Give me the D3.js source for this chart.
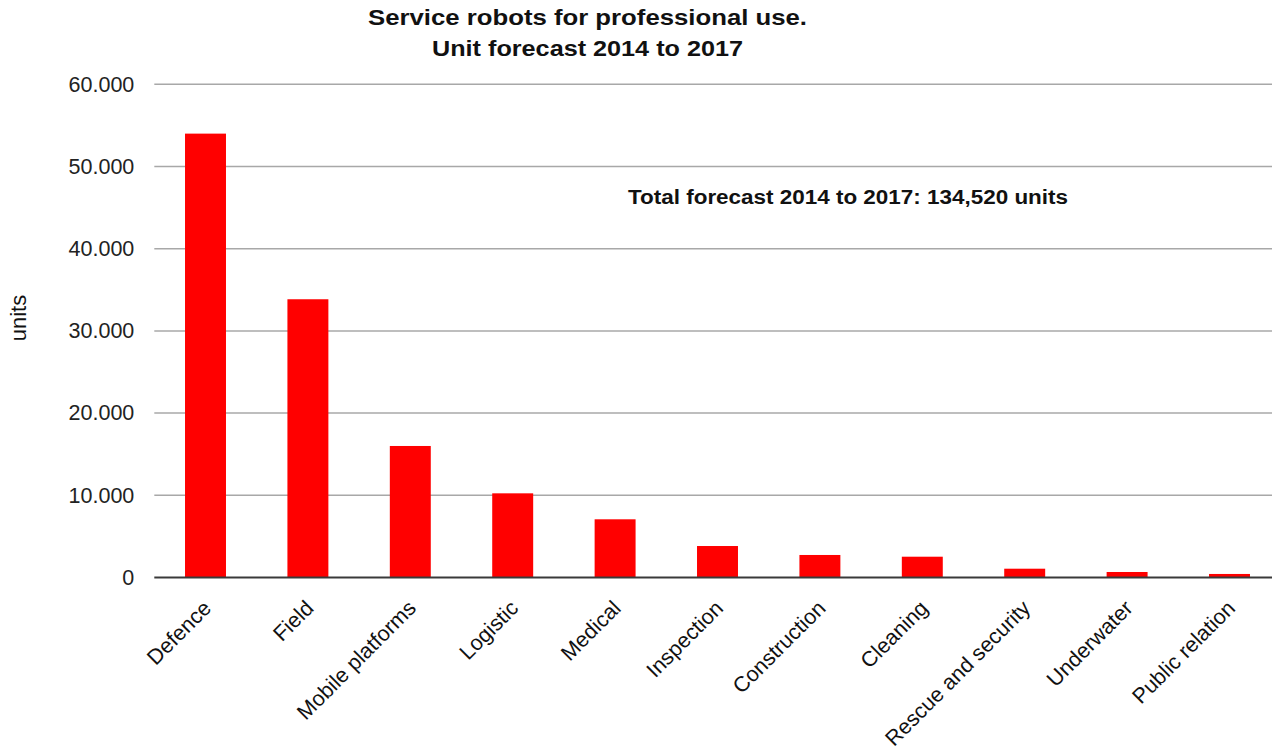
<!DOCTYPE html>
<html>
<head>
<meta charset="utf-8">
<script src="https://cdn.jsdelivr.net/npm/d3@7"></script>
<style>
  html, body { margin: 0; padding: 0; background: #fff; }
  svg { display: block; font-family: "Liberation Sans", Arial, sans-serif; }
</style>
</head>
<body>
<svg id="chart" width="1272" height="750"></svg>
<script>
// Service robot categories and forecast unit counts, 2014-2017
const categories = ["Defence", "Field", "Mobile platforms", "Logistic", "Medical",
  "Inspection", "Construction", "Cleaning", "Rescue and security", "Underwater", "Public relation"];
const units = [54000, 33850, 16000, 10240, 7080, 3830, 2740, 2530, 1070, 670, 430];
const yTicks = [0, 10000, 20000, 30000, 40000, 50000, 60000];
const titleLines = ["Service robots for professional use.", "Unit forecast 2014 to 2017"];
const titleWidths = [439, 311];
const totalNote = "Total forecast 2014 to 2017: 134,520 units";

const svg = d3.select("#chart");
const W = 1272;

const x = d3.scaleBand()
  .domain(categories)
  .range([154.3, 1280.7])
  .paddingInner(0.6)
  .paddingOuter(0.3);

const y = d3.scaleLinear()
  .domain([0, 60000])
  .range([577.5, 84.3]);

const fmt = v => v === 0 ? "0" : d3.format(",")(v).replace(/,/g, ".");

// horizontal gridlines
svg.append("g")
  .selectAll("line")
  .data(yTicks.filter(d => d !== 0))
  .join("line")
  .attr("x1", 154.3).attr("x2", W)
  .attr("y1", d => y(d)).attr("y2", d => y(d))
  .attr("stroke", "#a8a8a8")
  .attr("stroke-width", 1.5);

// y axis tick labels
const yAxis = d3.axisLeft(y).tickValues(yTicks).tickFormat(fmt).tickSize(0).tickPadding(20);
const yg = svg.append("g").attr("transform", "translate(154.3,0)").call(yAxis);
yg.select(".domain").remove();
yg.selectAll("text")
  .attr("font-size", 21.5)
  .attr("fill", "#222")
  .attr("font-family", "Liberation Sans, Arial, sans-serif");

// bars
svg.append("g")
  .selectAll("rect")
  .data(categories.map((c, i) => ({ c, v: units[i] })))
  .join("rect")
  .attr("x", d => x(d.c))
  .attr("width", x.bandwidth())
  .attr("y", d => y(d.v))
  .attr("height", d => y(0) - y(d.v))
  .attr("fill", "#ff0000");

// baseline
svg.append("line")
  .attr("x1", 154.3).attr("x2", W)
  .attr("y1", y(0)).attr("y2", y(0))
  .attr("stroke", "#3a3a3a")
  .attr("stroke-width", 2);

// category labels, rotated
const xAxis = d3.axisBottom(x).tickSize(0).tickPadding(0);
const xg = svg.append("g").attr("transform", `translate(0,${y(0)})`).call(xAxis);
xg.select(".domain").remove();
xg.selectAll("text")
  .attr("font-size", 21.5)
  .attr("fill", "#111")
  .attr("font-family", "Liberation Sans, Arial, sans-serif")
  .attr("text-anchor", "end")
  .attr("dy", 0)
  .attr("y", 0)
  .attr("transform", "translate(7,32) rotate(-45)");

// y axis title
svg.append("text")
  .attr("transform", "translate(26,318) rotate(-90)")
  .attr("text-anchor", "middle")
  .attr("font-size", 22)
  .attr("fill", "#111")
  .text("units");

// chart title
svg.append("g")
  .selectAll("text")
  .data(titleLines)
  .join("text")
  .attr("x", 587.5)
  .attr("y", (d, i) => 25 + i * 31)
  .attr("text-anchor", "middle")
  .attr("font-size", 22.5)
  .attr("font-weight", "bold")
  .attr("fill", "#111")
  .attr("textLength", (d, i) => titleWidths[i])
  .attr("lengthAdjust", "spacingAndGlyphs")
  .text(d => d);

// total annotation
svg.append("text")
  .attr("x", 628)
  .attr("y", 204)
  .attr("font-size", 19.5)
  .attr("font-weight", "bold")
  .attr("fill", "#111")
  .attr("textLength", 440)
  .attr("lengthAdjust", "spacingAndGlyphs")
  .text(totalNote);
</script>
</body>
</html>
